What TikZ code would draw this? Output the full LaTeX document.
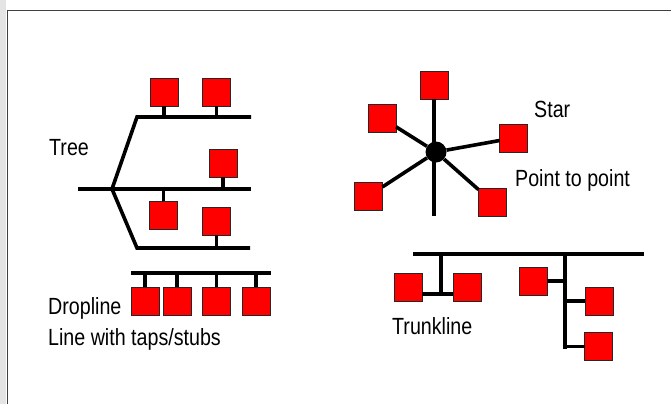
\documentclass[tikz,border=0pt]{standalone}
\usepackage{fontspec}
\setmainfont{Liberation Sans}
\usepackage{graphicx}
\newcommand\mylbl[1]{\scalebox{0.84}[1]{#1}}
\definecolor{stripgray}{HTML}{E4E4E4}
\definecolor{framegray}{HTML}{404040}
\begin{document}
\begin{tikzpicture}[x=1pt,y=-1pt,
  dev/.style={draw=black!85,line width=0.8pt,fill=red,minimum size=28pt,inner sep=0pt,outer sep=0pt},
  wire/.style={line width=3.6pt,line cap=butt},
  spoke/.style={line width=3.6pt},
  lbl/.style={inner sep=0pt,anchor=base west,font=\fontsize{23.4}{24}\selectfont}]
\useasboundingbox (0,0) rectangle (671,404);
\fill[stripgray] (0,0) rectangle (6,404);
\draw[framegray,line width=1.5pt] (7.5,404) -- (7.5,10.5) -- (671,10.5);

% ---------- Tree ----------
\coordinate (tsplit) at (112,189);
\coordinate (ttopL) at (137,117);
\coordinate (ttopR) at (251,117);
\coordinate (tmidL) at (78,189);
\coordinate (tmidR) at (251,189);
\coordinate (tbotL) at (137,248);
\coordinate (tbotR) at (250,248);
\draw[wire,line join=miter] (tsplit) -- (ttopL) -- (ttopR);
\draw[wire,line join=miter] (tsplit) -- (tbotL) -- (tbotR);
\draw[wire] (tmidL) -- (tmidR);
\node[dev] (t1) at (164,92) {};
\node[dev] (t2) at (216.5,92) {};
\node[dev] (t3) at (223,163) {};
\node[dev] (t4) at (163.5,215) {};
\node[dev] (t5) at (216.5,221) {};
\draw[wire] (t1.south) -- (t1.south |- ttopL);
\draw[wire] (t2.south) -- (t2.south |- ttopL);
\draw[wire] (t3.south) -- (t3.south |- tmidL);
\draw[wire] (t4.north) -- (t4.north |- tmidL);
\draw[wire] (t5.south) -- (t5.south |- tbotL);
\node[lbl] (treelbl) at (49,155) {\mylbl{Tree}};

% ---------- Dropline ----------
\coordinate (dL) at (131,273);
\coordinate (dR) at (271,273);
\draw[wire] (dL) -- (dR);
\node[dev] (d1) at (145,301) {};
\node[dev] (d2) at (177,301) {};
\node[dev] (d3) at (216.5,301) {};
\node[dev] (d4) at (256,301) {};
\foreach \d in {d1,d2,d3,d4}{\draw[wire] (\d.north) -- (\d.north |- dL);}
\node[lbl] (droplbl) at (48,314) {\mylbl{Dropline}};
\node[lbl] (taplbl) at (48,345) {\mylbl{Line with taps/stubs}};

% ---------- Star ----------
\node[circle,fill=black,minimum size=21pt,inner sep=0pt] (hub) at (436,152) {};
\node[dev] (s1) at (434,85) {};
\node[dev] (s2) at (382,118) {};
\node[dev] (s3) at (513.5,138) {};
\node[dev] (s4) at (368.5,196) {};
\node[dev] (s5) at (492.5,202) {};
\coordinate (sbot) at (435.5,216);
\draw[spoke] (hub.center) -- (s1.south |- hub.center) -- (s1.south);
\draw[spoke] (hub) -- (s2);
\draw[spoke] (hub) -- (s3);
\draw[spoke] (hub) -- (s4);
\draw[spoke] (hub) -- (s5);
\draw[spoke] (sbot -| s1.south) -- (s1.south |- hub.center);
\node[lbl] (starlbl) at (534,117) {\mylbl{Star}};
\node[lbl] (ptplbl) at (515,186) {\mylbl{Point to point}};

% ---------- Trunkline ----------
\coordinate (kL) at (413,254);
\coordinate (kR) at (644,254);
\draw[wire] (kL) -- (kR);
\node[dev] (k1) at (408,287) {};
\node[dev] (k2) at (467,287) {};
\coordinate (kj1) at (441,294);
\draw[wire] (kj1 |- kL) -- (kj1);
\draw[wire] (k1.east |- kj1) -- (k2.west |- kj1);
\node[dev] (kA) at (533,281) {};
\node[dev] (kB) at (599,301) {};
\node[dev] (kC) at (598.5,346.5) {};
\coordinate (kj2) at (565,348.5);
\draw[wire] (kj2 |- kL) -- (kj2);
\draw[wire] (kA.east) -- (kA.east -| kj2);
\draw[wire] (kB.west) -- (kB.west -| kj2);
\draw[wire] (kC.west) -- (kC.west -| kj2);
\node[lbl] (trunklbl) at (392,334) {\mylbl{Trunkline}};
\end{tikzpicture}
\end{document}
